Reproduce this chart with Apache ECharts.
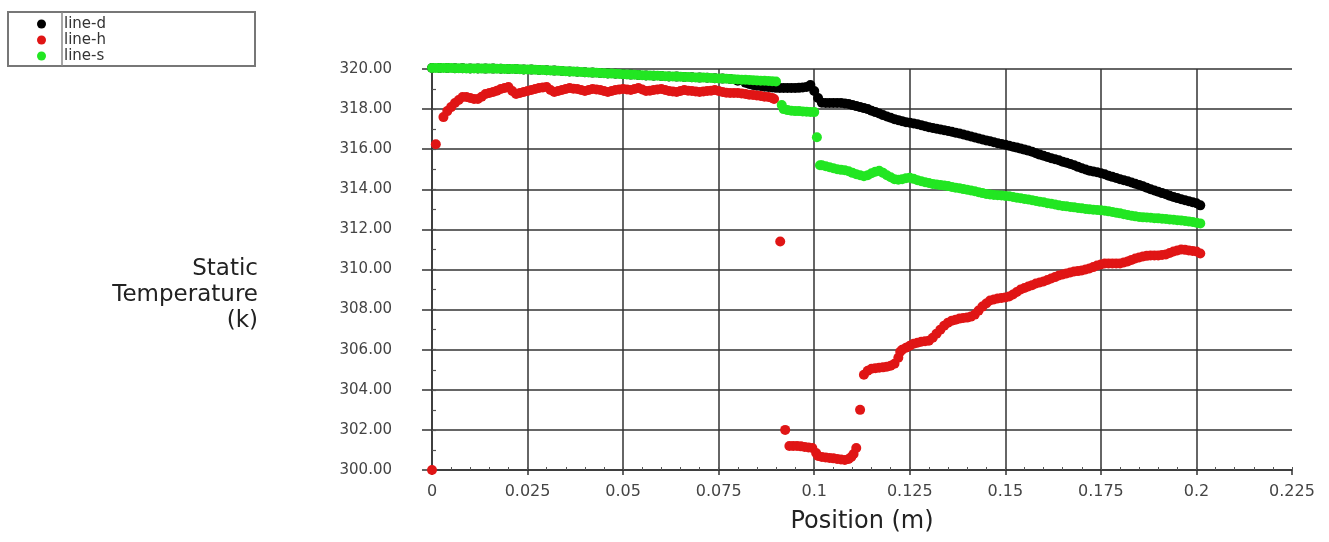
<!DOCTYPE html>
<html>
<head>
<meta charset="utf-8">
<script src="https://cdn.jsdelivr.net/npm/echarts@6/dist/echarts.min.js"></script>
<style>html,body{margin:0;padding:0;background:#fff;}#c{width:1329px;height:542px;}</style>
</head>
<body>
<div id="c"></div>
<script>
var seriesNames = ['line-d', 'line-h', 'line-s'];
var yTicks = [300, 302, 304, 306, 308, 310, 312, 314, 316, 318, 320];
var xTicks = [0, 0.025, 0.05, 0.075, 0.1, 0.125, 0.15, 0.175, 0.2, 0.225];

var lineD = [[0,320.05],[0.002,320.05],[0.004,320.05],[0.006,320.04],[0.008,320.04],[0.01,320.03],[0.012,320.03],[0.014,320.02],[0.016,320.02],[0.018,320.01],[0.02,320.0],[0.022,320.0],[0.024,319.98],[0.026,319.97],[0.028,319.95],[0.03,319.94],[0.032,319.92],[0.034,319.9],[0.036,319.88],[0.038,319.86],[0.04,319.84],[0.042,319.82],[0.044,319.8],[0.046,319.78],[0.048,319.76],[0.05,319.74],[0.052,319.72],[0.054,319.7],[0.056,319.68],[0.058,319.66],[0.06,319.65],[0.062,319.63],[0.064,319.62],[0.066,319.6],[0.068,319.59],[0.07,319.57],[0.072,319.56],[0.074,319.54],[0.076,319.52],[0.078,319.5],[0.08,319.42],[0.082,319.32],[0.083,319.25],[0.084,319.2],[0.085,319.17],[0.086,319.15],[0.087,319.12],[0.088,319.1],[0.089,319.08],[0.09,319.06],[0.091,319.05],[0.092,319.05],[0.093,319.05],[0.094,319.05],[0.095,319.05],[0.096,319.06],[0.097,319.08],[0.098,319.1],[0.099,319.2],[0.1,318.9],[0.101,318.55],[0.102,318.32],[0.103,318.3],[0.104,318.3],[0.105,318.3],[0.106,318.3],[0.107,318.3],[0.108,318.28],[0.109,318.25],[0.11,318.2],[0.111,318.15],[0.112,318.1],[0.113,318.05],[0.114,318.0],[0.115,317.92],[0.116,317.85],[0.117,317.78],[0.118,317.7],[0.119,317.63],[0.12,317.57],[0.121,317.5],[0.122,317.45],[0.123,317.4],[0.124,317.35],[0.125,317.32],[0.126,317.28],[0.127,317.24],[0.128,317.2],[0.129,317.15],[0.13,317.1],[0.131,317.06],[0.132,317.02],[0.133,316.98],[0.134,316.95],[0.135,316.91],[0.136,316.87],[0.137,316.82],[0.138,316.78],[0.139,316.73],[0.14,316.68],[0.141,316.63],[0.142,316.58],[0.143,316.53],[0.144,316.48],[0.145,316.44],[0.146,316.4],[0.147,316.35],[0.148,316.3],[0.149,316.26],[0.15,316.22],[0.151,316.17],[0.152,316.12],[0.153,316.08],[0.154,316.03],[0.155,315.98],[0.156,315.93],[0.157,315.87],[0.158,315.8],[0.159,315.73],[0.16,315.67],[0.161,315.61],[0.162,315.55],[0.163,315.5],[0.164,315.45],[0.165,315.38],[0.166,315.32],[0.167,315.26],[0.168,315.2],[0.169,315.12],[0.17,315.05],[0.171,314.99],[0.172,314.93],[0.173,314.89],[0.174,314.85],[0.175,314.8],[0.176,314.75],[0.177,314.68],[0.178,314.62],[0.179,314.56],[0.18,314.5],[0.181,314.45],[0.182,314.4],[0.183,314.34],[0.184,314.28],[0.185,314.22],[0.186,314.15],[0.187,314.08],[0.188,314.0],[0.189,313.94],[0.19,313.88],[0.191,313.81],[0.192,313.75],[0.193,313.68],[0.194,313.62],[0.195,313.56],[0.196,313.5],[0.197,313.45],[0.198,313.4],[0.199,313.35],[0.2,313.3],[0.201,313.2]];

var lineH = [[0,300.0],[0.001,316.25],[0.003,317.6],[0.004,317.9],[0.005,318.1],[0.006,318.3],[0.007,318.45],[0.008,318.6],[0.009,318.6],[0.01,318.55],[0.011,318.5],[0.012,318.5],[0.013,318.62],[0.014,318.75],[0.015,318.8],[0.016,318.85],[0.017,318.92],[0.018,319.0],[0.019,319.05],[0.02,319.1],[0.021,318.9],[0.022,318.75],[0.023,318.8],[0.024,318.85],[0.025,318.9],[0.026,318.95],[0.027,319.0],[0.028,319.05],[0.029,319.08],[0.03,319.1],[0.031,318.95],[0.032,318.85],[0.033,318.9],[0.034,318.95],[0.035,319.0],[0.036,319.05],[0.037,319.02],[0.038,319.0],[0.039,318.95],[0.04,318.9],[0.041,318.95],[0.042,319.0],[0.043,318.98],[0.044,318.95],[0.045,318.9],[0.046,318.85],[0.047,318.9],[0.048,318.95],[0.049,318.98],[0.05,319.0],[0.051,318.98],[0.052,318.95],[0.053,319.0],[0.054,319.05],[0.055,318.98],[0.056,318.9],[0.057,318.92],[0.058,318.95],[0.059,318.98],[0.06,319.0],[0.061,318.95],[0.062,318.9],[0.063,318.88],[0.064,318.85],[0.065,318.9],[0.066,318.95],[0.067,318.92],[0.068,318.9],[0.069,318.88],[0.07,318.85],[0.071,318.88],[0.072,318.9],[0.073,318.92],[0.074,318.95],[0.075,318.9],[0.076,318.85],[0.077,318.82],[0.078,318.8],[0.079,318.8],[0.08,318.8],[0.081,318.78],[0.082,318.75],[0.083,318.72],[0.084,318.7],[0.085,318.68],[0.086,318.65],[0.087,318.62],[0.088,318.6],[0.089,318.55],[0.0895,318.5],[0.0911,311.4],[0.0924,302.0],[0.0935,301.2],[0.0945,301.2],[0.0955,301.2],[0.0965,301.18],[0.0975,301.15],[0.0985,301.12],[0.0995,301.1],[0.1005,300.85],[0.101,300.7],[0.102,300.65],[0.103,300.62],[0.104,300.6],[0.105,300.58],[0.106,300.55],[0.107,300.52],[0.108,300.5],[0.109,300.55],[0.1097,300.65],[0.1103,300.8],[0.111,301.1],[0.112,303.0],[0.113,304.75],[0.114,304.95],[0.115,305.05],[0.116,305.08],[0.117,305.1],[0.118,305.12],[0.119,305.15],[0.12,305.2],[0.121,305.3],[0.122,305.6],[0.1225,305.9],[0.123,306.0],[0.124,306.1],[0.125,306.2],[0.126,306.3],[0.127,306.35],[0.128,306.4],[0.129,306.42],[0.13,306.45],[0.131,306.6],[0.132,306.8],[0.133,307.0],[0.134,307.2],[0.135,307.35],[0.136,307.45],[0.137,307.5],[0.138,307.55],[0.139,307.58],[0.14,307.6],[0.141,307.65],[0.142,307.75],[0.143,307.95],[0.144,308.15],[0.145,308.3],[0.146,308.45],[0.147,308.5],[0.148,308.55],[0.149,308.58],[0.15,308.6],[0.151,308.65],[0.152,308.75],[0.153,308.88],[0.154,309.0],[0.155,309.08],[0.156,309.15],[0.157,309.22],[0.158,309.3],[0.159,309.35],[0.16,309.4],[0.161,309.48],[0.162,309.55],[0.163,309.62],[0.164,309.7],[0.165,309.75],[0.166,309.8],[0.167,309.85],[0.168,309.9],[0.169,309.92],[0.17,309.95],[0.171,310.0],[0.172,310.05],[0.173,310.12],[0.174,310.2],[0.175,310.25],[0.176,310.3],[0.177,310.3],[0.178,310.3],[0.179,310.3],[0.18,310.3],[0.181,310.35],[0.182,310.4],[0.183,310.48],[0.184,310.55],[0.185,310.6],[0.186,310.65],[0.187,310.68],[0.188,310.7],[0.189,310.7],[0.19,310.7],[0.191,310.72],[0.192,310.75],[0.193,310.82],[0.194,310.9],[0.195,310.95],[0.196,311.0],[0.197,310.98],[0.198,310.95],[0.199,310.92],[0.2,310.9],[0.201,310.8]];

var lineS = [[0,320.05],[0.001,320.05],[0.002,320.05],[0.003,320.05],[0.004,320.05],[0.005,320.05],[0.006,320.04],[0.007,320.04],[0.008,320.04],[0.009,320.03],[0.01,320.03],[0.011,320.03],[0.012,320.03],[0.013,320.02],[0.014,320.02],[0.015,320.02],[0.016,320.02],[0.017,320.01],[0.018,320.01],[0.019,320.0],[0.02,320.0],[0.021,320.0],[0.022,320.0],[0.023,319.99],[0.024,319.98],[0.025,319.98],[0.026,319.97],[0.027,319.96],[0.028,319.95],[0.029,319.95],[0.03,319.94],[0.031,319.93],[0.032,319.92],[0.033,319.91],[0.034,319.9],[0.035,319.89],[0.036,319.88],[0.037,319.87],[0.038,319.86],[0.039,319.85],[0.04,319.84],[0.041,319.83],[0.042,319.82],[0.043,319.81],[0.044,319.8],[0.045,319.79],[0.046,319.78],[0.047,319.77],[0.048,319.76],[0.049,319.75],[0.05,319.74],[0.051,319.73],[0.052,319.72],[0.053,319.71],[0.054,319.7],[0.055,319.69],[0.056,319.68],[0.057,319.67],[0.058,319.66],[0.059,319.66],[0.06,319.65],[0.061,319.64],[0.062,319.63],[0.063,319.63],[0.064,319.62],[0.065,319.61],[0.066,319.6],[0.067,319.6],[0.068,319.59],[0.069,319.58],[0.07,319.57],[0.071,319.57],[0.072,319.56],[0.073,319.55],[0.074,319.54],[0.075,319.53],[0.076,319.52],[0.077,319.51],[0.078,319.5],[0.079,319.49],[0.08,319.48],[0.081,319.47],[0.082,319.46],[0.083,319.45],[0.084,319.44],[0.085,319.43],[0.086,319.42],[0.087,319.41],[0.088,319.4],[0.089,319.39],[0.09,319.38],[0.0915,318.2],[0.092,318.0],[0.093,317.95],[0.094,317.92],[0.095,317.9],[0.096,317.9],[0.097,317.88],[0.098,317.87],[0.099,317.86],[0.1,317.85],[0.1007,316.6],[0.1015,315.2],[0.102,315.2],[0.103,315.15],[0.104,315.1],[0.105,315.05],[0.106,315.0],[0.107,314.97],[0.108,314.95],[0.109,314.9],[0.11,314.82],[0.111,314.75],[0.112,314.7],[0.113,314.65],[0.114,314.7],[0.115,314.8],[0.116,314.88],[0.117,314.92],[0.118,314.82],[0.119,314.7],[0.12,314.6],[0.121,314.5],[0.122,314.48],[0.123,314.5],[0.124,314.55],[0.125,314.58],[0.126,314.52],[0.127,314.45],[0.128,314.4],[0.129,314.35],[0.13,314.31],[0.131,314.27],[0.132,314.24],[0.133,314.21],[0.134,314.19],[0.135,314.16],[0.136,314.12],[0.137,314.08],[0.138,314.05],[0.139,314.01],[0.14,313.98],[0.141,313.94],[0.142,313.9],[0.143,313.85],[0.144,313.81],[0.145,313.77],[0.146,313.74],[0.147,313.72],[0.148,313.7],[0.149,313.69],[0.15,313.67],[0.151,313.65],[0.152,313.62],[0.153,313.58],[0.154,313.55],[0.155,313.52],[0.156,313.49],[0.157,313.46],[0.158,313.42],[0.159,313.38],[0.16,313.35],[0.161,313.31],[0.162,313.28],[0.163,313.24],[0.164,313.2],[0.165,313.17],[0.166,313.15],[0.167,313.12],[0.168,313.1],[0.169,313.07],[0.17,313.05],[0.171,313.02],[0.172,313.0],[0.173,312.98],[0.174,312.97],[0.175,312.95],[0.176,312.93],[0.177,312.9],[0.178,312.87],[0.179,312.83],[0.18,312.8],[0.181,312.76],[0.182,312.72],[0.183,312.68],[0.184,312.65],[0.185,312.62],[0.186,312.6],[0.187,312.59],[0.188,312.58],[0.189,312.56],[0.19,312.55],[0.191,312.53],[0.192,312.52],[0.193,312.5],[0.194,312.48],[0.195,312.46],[0.196,312.45],[0.197,312.42],[0.198,312.4],[0.199,312.37],[0.2,312.33],[0.201,312.3]];

var colors = ['#000000', '#e01515', '#22e622'];
var chart = echarts.init(document.getElementById('c'), null, {renderer: 'canvas'});
var axisColor = '#333';
var fontFam = '"DejaVu Sans", sans-serif';

function scatterSeries(i, data) {
  return {
    name: seriesNames[i], type: 'scatter', data: data, symbolSize: 10, clip: false,
    large: false, progressive: 0,
    itemStyle: {color: colors[i], opacity: 1}, xAxisIndex: 0, yAxisIndex: 0, silent: true
  };
}

var option = {
  animation: false,
  backgroundColor: '#ffffff',
  grid: {left: 432, right: 37, top: 69, bottom: 72, containLabel: false},
  graphic: [
    {type: 'rect', z: 0, shape: {x: 8, y: 12, width: 247, height: 54}, style: {fill: '#fff', stroke: '#777', lineWidth: 2}},
    {type: 'line', z: 1, shape: {x1: 62, y1: 12, x2: 62, y2: 66}, style: {stroke: '#888', lineWidth: 1.5}},
    {type: 'text', z: 5, x: 258, y: 256,
      style: {text: 'Static\nTemperature\n(k)', align: 'right', verticalAlign: 'top', font: '23px "DejaVu Sans", sans-serif', lineHeight: 26, fill: '#222'}}
  ],
  legend: {
    orient: 'vertical', left: 32, top: 11, itemGap: 0,
    itemWidth: 9, itemHeight: 9, icon: 'circle',
    data: seriesNames,
    itemStyle: {opacity: 1},
    textStyle: {fontFamily: fontFam, fontSize: 15, lineHeight: 16, color: '#333', padding: [0, 0, 0, 13]}
  },
  xAxis: [{
    type: 'value', min: xTicks[0], max: xTicks[xTicks.length - 1], interval: 0.025,
    name: 'Position (m)', nameLocation: 'middle', nameGap: 40,
    nameTextStyle: {fontFamily: fontFam, fontSize: 24, color: '#222'},
    axisLine: {show: true, lineStyle: {color: axisColor, width: 1.5}},
    axisTick: {show: true, length: 5, lineStyle: {color: axisColor, width: 1.5}},
    axisLabel: {margin: 14, fontFamily: fontFam, fontSize: 16, color: '#444',
      formatter: function (v) { return String(parseFloat(v.toFixed(3))); }},
    splitLine: {show: true, showMaxLine: false, lineStyle: {color: axisColor, width: 1.5}}
  }, {
    type: 'value', min: 0, max: 0.225, interval: 0.005, position: 'bottom',
    axisLine: {show: false}, axisLabel: {show: false}, splitLine: {show: false},
    axisTick: {show: true, inside: true, length: 3, lineStyle: {color: '#555', width: 1}}
  }],
  yAxis: [{
    type: 'value', min: yTicks[0], max: yTicks[yTicks.length - 1], interval: 2,
    axisLine: {show: true, lineStyle: {color: axisColor, width: 1.5}},
    axisTick: {show: true, length: 10, lineStyle: {color: axisColor, width: 1.5}},
    axisLabel: {margin: 40, fontFamily: fontFam, fontSize: 15, color: '#444',
      formatter: function (v) { return v.toFixed(2); }},
    splitLine: {show: true, lineStyle: {color: axisColor, width: 1.5}}
  }, {
    type: 'value', min: 300, max: 320, interval: 1, position: 'left',
    axisLine: {show: false}, axisLabel: {show: false}, splitLine: {show: false},
    axisTick: {show: true, inside: true, length: 4, lineStyle: {color: '#555', width: 1.2}}
  }],
  series: [
    scatterSeries(0, lineD),
    scatterSeries(1, lineH),
    scatterSeries(2, lineS)
  ]
};
chart.setOption(option);
</script>
</body>
</html>
